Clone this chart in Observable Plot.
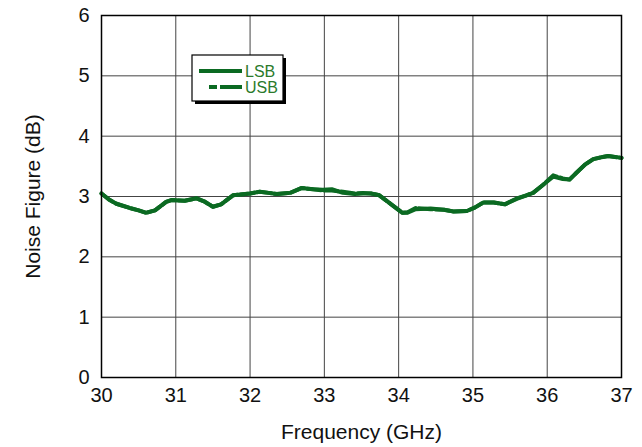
<!DOCTYPE html>
<html>
<head>
<meta charset="utf-8">
<script src="https://cdn.jsdelivr.net/npm/d3@7"></script>
<script src="https://cdn.jsdelivr.net/npm/@observablehq/plot@0.6"></script>
<style>
  html, body { margin: 0; padding: 0; background: white; }
  #wrap { position: relative; width: 642px; height: 447px; }
  #legend { position: absolute; left: 0; top: 0; pointer-events: none; }
</style>
</head>
<body>
<div id="wrap"></div>
<script>
const freq = [30.0, 30.1, 30.2, 30.38, 30.5, 30.6, 30.72, 30.87, 30.94, 31.12, 31.28, 31.38, 31.5, 31.61, 31.77, 32.0, 32.13, 32.25, 32.36, 32.54, 32.69, 32.85, 32.98, 33.1, 33.25, 33.41, 33.52, 33.63, 33.74, 33.9, 34.05, 34.12, 34.23, 34.43, 34.61, 34.74, 34.92, 35.03, 35.14, 35.28, 35.43, 35.59, 35.72, 35.81, 35.95, 36.08, 36.21, 36.3, 36.39, 36.51, 36.62, 36.73, 36.82, 37.0];
const lsb = [3.05, 2.95, 2.88, 2.81, 2.77, 2.73, 2.77, 2.91, 2.94, 2.93, 2.97, 2.92, 2.83, 2.87, 3.02, 3.05, 3.08, 3.06, 3.04, 3.06, 3.14, 3.12, 3.11, 3.12, 3.06, 3.04, 3.05, 3.05, 3.02, 2.87, 2.73, 2.73, 2.79, 2.80, 2.78, 2.75, 2.76, 2.82, 2.90, 2.90, 2.87, 2.96, 3.02, 3.06, 3.20, 3.33, 3.29, 3.28, 3.39, 3.53, 3.62, 3.65, 3.67, 3.64];
const usb = [3.05, 2.95, 2.88, 2.81, 2.77, 2.73, 2.77, 2.91, 2.94, 2.93, 2.97, 2.92, 2.83, 2.87, 3.02, 3.05, 3.08, 3.06, 3.04, 3.06, 3.14, 3.12, 3.10, 3.10, 3.08, 3.05, 3.06, 3.05, 3.02, 2.87, 2.73, 2.74, 2.81, 2.79, 2.78, 2.75, 2.76, 2.82, 2.90, 2.90, 2.87, 2.97, 3.02, 3.06, 3.20, 3.35, 3.30, 3.28, 3.39, 3.53, 3.62, 3.65, 3.67, 3.64];
const xTicks = [30, 31, 32, 33, 34, 35, 36, 37];
const yTicks = [0, 1, 2, 3, 4, 5, 6];
const seriesNames = ["LSB", "USB"];
const xTitle = "Frequency (GHz)";
const yTitle = "Noise Figure (dB)";

const green = "#0b6a22";
const rows = freq.map((f, i) => ({f, v: lsb[i], s: "LSB"}));
const rowsU = freq.map((f, i) => ({f, v: usb[i], s: "USB"}));

const font = "'Liberation Sans', Arial, Helvetica, sans-serif";

const chart = Plot.plot({
  width: 642,
  height: 447,
  marginLeft: 101,
  marginRight: 21,
  marginTop: 15,
  marginBottom: 70,
  x: {domain: [30, 37], axis: null},
  y: {domain: [0, 6], axis: null},
  style: {fontFamily: font, background: "white", color: "#111"},
  marks: [
    Plot.gridX(xTicks, {stroke: "#444", strokeOpacity: 1, strokeWidth: 1}),
    Plot.gridY(yTicks, {stroke: "#444", strokeOpacity: 1, strokeWidth: 1}),
    Plot.line(rows, {x: "f", y: "v", stroke: green, strokeWidth: 4, curve: "linear"}),
    Plot.line(rowsU, {x: "f", y: "v", stroke: green, strokeWidth: 4, strokeDasharray: "14,3", curve: "linear"}),
    Plot.frame({stroke: "#000", strokeWidth: 1.5}),
    Plot.text(xTicks, {x: d => d, frameAnchor: "bottom", dy: 18, fontSize: 20, fill: "#111", lineAnchor: "middle"}),
    Plot.text(yTicks, {y: d => d, frameAnchor: "left", dx: -12, textAnchor: "end", fontSize: 20, fill: "#111"}),
    Plot.text([xTitle], {frameAnchor: "bottom", dy: 55, fontSize: 21, fill: "#111", lineAnchor: "middle", textAnchor: "middle"}),
    Plot.text([yTitle], {frameAnchor: "left", dx: -68, rotate: -90, fontSize: 21, fill: "#111", textAnchor: "middle", lineAnchor: "middle"})
  ]
});

const wrap = document.getElementById("wrap");
wrap.appendChild(chart);

// Legend overlay
const svg = d3.select(wrap).append("svg")
  .attr("id", "legend")
  .attr("width", 642).attr("height", 447);
const lx = 192, ly = 55, lw = 91, lh = 46;
svg.append("rect").attr("x", lx + 3).attr("y", ly + 3).attr("width", lw).attr("height", lh).attr("fill", "#000");
svg.append("rect").attr("x", lx).attr("y", ly).attr("width", lw).attr("height", lh)
  .attr("fill", "white").attr("stroke", "#000").attr("stroke-width", 1.2);
const items = [
  {name: seriesNames[0], y: ly + 16, x1: lx + 7, dash: null},
  {name: seriesNames[1], y: ly + 32, x1: lx + 17, dash: "8,3,22"}
];
items.forEach(it => {
  const ln = svg.append("line").attr("x1", it.x1).attr("x2", lx + 50)
    .attr("y1", it.y).attr("y2", it.y).attr("stroke", green).attr("stroke-width", 4);
  if (it.dash) ln.attr("stroke-dasharray", it.dash);
  svg.append("text").attr("x", lx + 53).attr("y", it.y).attr("dy", "0.35em")
    .attr("font-family", font).attr("font-size", 16).attr("fill", "#2b7a2b").text(it.name);
});
</script>
</body>
</html>
